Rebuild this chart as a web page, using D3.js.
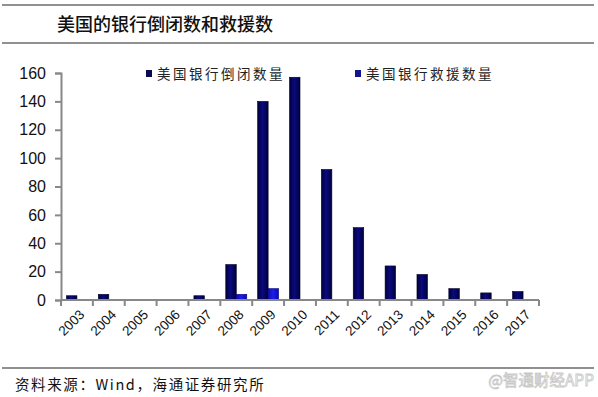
<!DOCTYPE html>
<html>
<head>
<meta charset="utf-8">
<script src="https://cdn.jsdelivr.net/npm/d3@7"></script>
<style>
  body { margin: 0; background: #fff; }
  svg { display: block; }
</style>
</head>
<body>
<svg id="chart" width="598" height="397"></svg>
<script>
(function () {
  'use strict';

  const years = ['2003', '2004', '2005', '2006', '2007', '2008', '2009', '2010',
                 '2011', '2012', '2013', '2014', '2015', '2016', '2017'];
  const closures = [3, 4, 0, 0, 3, 25, 140, 157, 92, 51, 24, 18, 8, 5, 6];
  const rescues  = [0, 0, 0, 0, 0, 4, 8, 0, 0, 0, 0, 0, 0, 0, 0];
  const yTicks = [0, 20, 40, 60, 80, 100, 120, 140, 160];
  const seriesNames = ['美国银行倒闭数量', '美国银行救援数量'];

  const plot = { left: 61, right: 539, top: 73, bottom: 300 };
  const cjk = '"SimSun","Noto Sans CJK SC",sans-serif';

  const svg = d3.select('#chart');

  // gradients to mimic the shaded bars
  const defs = svg.append('defs');
  function grad(id, edge, mid) {
    const g = defs.append('linearGradient').attr('id', id)
      .attr('x1', '0').attr('x2', '1').attr('y1', '0').attr('y2', '0');
    g.append('stop').attr('offset', '0%').attr('stop-color', edge);
    g.append('stop').attr('offset', '45%').attr('stop-color', mid);
    g.append('stop').attr('offset', '100%').attr('stop-color', edge);
  }
  grad('gClose', '#00003a', '#0a0a80');
  grad('gRescue', '#0a0ab0', '#1c1cf0');

  // header and footer rules
  [5, 43, 368].forEach(yy => {
    svg.append('line').attr('x1', 2).attr('x2', 594).attr('y1', yy).attr('y2', yy)
      .attr('stroke', '#222').attr('stroke-width', 1.2);
  });

  svg.append('text').attr('x', 57).attr('y', 31)
    .attr('font-family', cjk).attr('font-size', 18).attr('font-weight', 500)
    .attr('fill', '#111').text('美国的银行倒闭数和救援数');

  svg.append('text').attr('x', 15).attr('y', 390)
    .attr('font-family', cjk).attr('font-size', 14.5).attr('fill', '#111')
    .attr('letter-spacing', 1.6)
    .text('资料来源：Wind，海通证券研究所');

  svg.append('text').attr('x', 594).attr('y', 386).attr('text-anchor', 'end')
    .attr('font-family', cjk).attr('font-size', 15.5).attr('fill', '#fff')
    .attr('stroke', '#c8c8c8').attr('stroke-width', 0.8)
    .text('@智通财经APP');

  // scales
  const x = d3.scaleBand().domain(years).range([plot.left, plot.right]);
  const inner = d3.scaleBand().domain([0, 1]).range([0, 21]);
  const groupOffset = (x.bandwidth() - 21) / 2;
  const y = d3.scaleLinear().domain([0, 160]).range([plot.bottom, plot.top]);

  // bars
  const series = [closures, rescues];
  const fills = ['url(#gClose)', 'url(#gRescue)'];
  series.forEach((vals, si) => {
    svg.append('g').selectAll('rect')
      .data(vals.map((v, i) => ({ year: years[i], v })).filter(d => d.v > 0))
      .enter().append('rect')
      .attr('x', d => x(d.year) + groupOffset + inner(si))
      .attr('y', d => y(d.v))
      .attr('width', inner.bandwidth())
      .attr('height', d => y(0) - y(d.v))
      .attr('fill', fills[si])
      .attr('stroke', si === 0 ? '#000028' : '#08087a')
      .attr('stroke-width', 0.6);
  });

  // y axis
  const yAxis = svg.append('g')
    .attr('transform', `translate(${plot.left},0)`)
    .call(d3.axisLeft(y).tickValues(yTicks).tickSize(6).tickPadding(9));
  yAxis.select('.domain').attr('stroke', '#888').attr('stroke-width', 2);
  yAxis.selectAll('.tick line').attr('stroke', '#888').attr('stroke-width', 2);
  yAxis.selectAll('.tick text')
    .attr('font-family', 'Arial, "Liberation Sans", sans-serif')
    .attr('font-size', 16).attr('fill', '#111');

  // x axis with ticks at category boundaries
  const xAxisG = svg.append('g')
    .attr('transform', `translate(0,${plot.bottom})`);
  xAxisG.append('line').attr('x1', plot.left).attr('x2', plot.right)
    .attr('stroke', '#888').attr('stroke-width', 2);
  const bounds = years.map(yy => x(yy)).concat([plot.right]);
  xAxisG.selectAll('.xt').data(bounds).enter().append('line')
    .attr('x1', d => d).attr('x2', d => d).attr('y1', 0).attr('y2', 6)
    .attr('stroke', '#888').attr('stroke-width', 2);
  xAxisG.selectAll('.xl').data(years).enter().append('text')
    .attr('transform', d => `translate(${x(d) + x.bandwidth() / 2 + 5},${12}) rotate(-45)`)
    .attr('text-anchor', 'end')
    .attr('dy', '0.35em')
    .attr('font-family', 'Arial, "Liberation Sans", sans-serif')
    .attr('font-size', 13.5).attr('fill', '#111')
    .text(d => d);

  // legend
  const legendX = [146, 355];
  seriesNames.forEach((name, i) => {
    const g = svg.append('g').attr('transform', `translate(${legendX[i]},69)`);
    g.append('rect').attr('width', 6).attr('height', 7).attr('y', 1)
      .attr('fill', i === 0 ? '#0a0a50' : '#14148c');
    g.append('text').attr('x', 11).attr('y', 10)
      .attr('font-family', cjk).attr('font-size', 13.5)
      .attr('letter-spacing', 2.5).attr('fill', '#222')
      .text(name);
  });
})();
</script>
</body>
</html>
